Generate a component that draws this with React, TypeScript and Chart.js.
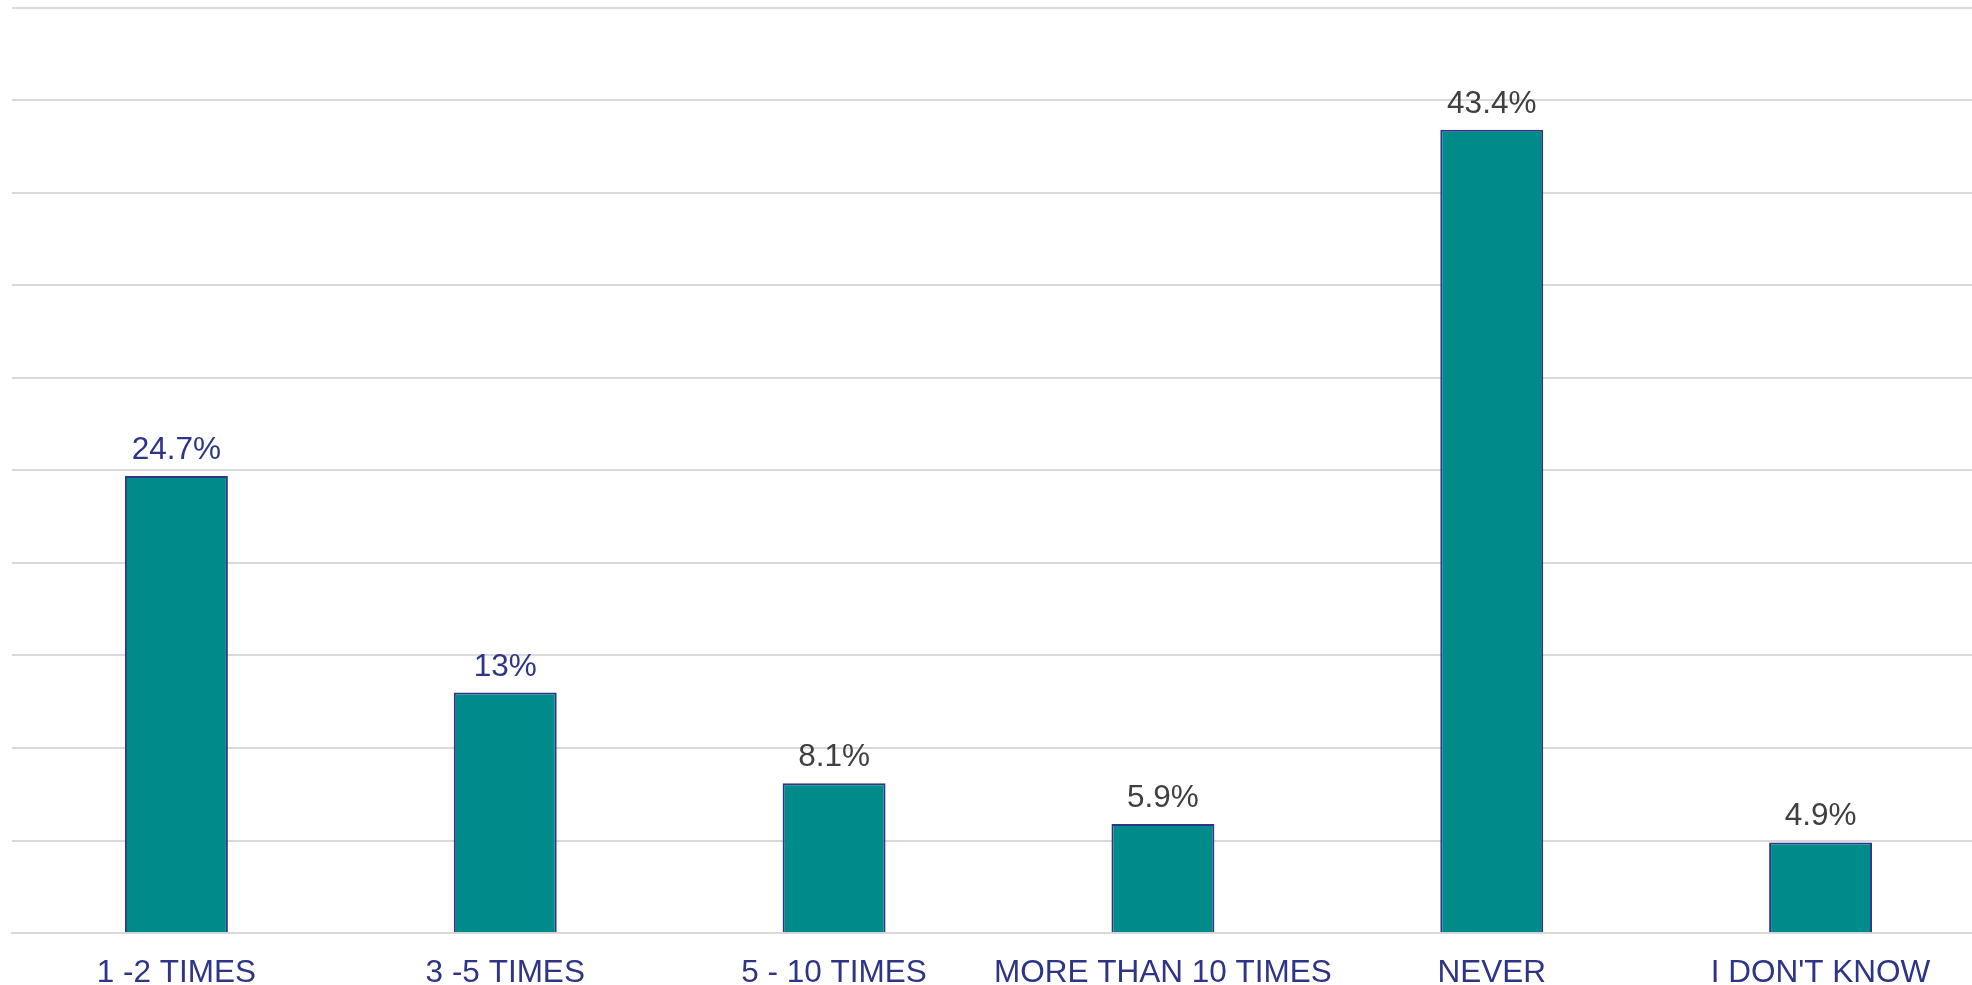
import React, { useEffect, useRef } from "react";
import { Chart, registerables } from "chart.js";

Chart.register(...registerables);

const categories = ["1 -2 TIMES", "3 -5 TIMES", "5 - 10 TIMES", "MORE THAN 10 TIMES", "NEVER", "I DON'T KNOW"];
const values = [24.7, 13, 8.1, 5.9, 43.4, 4.9];
const valueLabels = ["24.7%", "13%", "8.1%", "5.9%", "43.4%", "4.9%"];
const labelColors = ["#2E3587", "#2E3587", "#404040", "#404040", "#404040", "#404040"];
const yMax = 50;
const yStep = 5;

const FONT = "'Liberation Sans', Arial, sans-serif";

const valueLabelPlugin = {
  id: "valueLabels",
  afterDatasetsDraw(chart: any) {
    const ctx = chart.ctx;
    const meta = chart.getDatasetMeta(0);
    ctx.save();
    ctx.font = `31.5px ${FONT}`;
    ctx.textAlign = "center";
    ctx.textBaseline = "alphabetic";
    meta.data.forEach((bar: any, i: number) => {
      ctx.fillStyle = labelColors[i];
      ctx.fillText(valueLabels[i], bar.x, bar.y - 17);
    });
    ctx.restore();
  },
};

export default function App() {
  const ref = useRef<HTMLCanvasElement>(null);
  useEffect(() => {
    const canvas = ref.current!;
    const chart = new Chart(canvas, {
      type: "bar",
      data: {
        labels: categories,
        datasets: [
          {
            data: values,
            backgroundColor: "#008B8B",
            borderColor: "#2E3587",
            borderWidth: 2,
            barPercentage: 0.313,
            categoryPercentage: 1,
          },
        ],
      },
      options: {
        responsive: false,
        animation: false,
        devicePixelRatio: 1,
        layout: { padding: { left: 12, top: 7.5, right: 0, bottom: 0 } },
        plugins: { legend: { display: false }, tooltip: { enabled: false } },
        scales: {
          x: {
            grid: { display: false, drawTicks: false },
            border: { display: true, color: "#D9D9D9", width: 2 },
            ticks: {
              color: "#2E3587",
              font: { family: FONT, size: 31.5 },
              padding: 21,
              maxRotation: 0,
              autoSkip: false,
            },
          },
          y: {
            min: 0,
            max: yMax,
            ticks: { display: false, stepSize: yStep },
            grid: { color: "#D9D9D9", lineWidth: 2, drawTicks: false },
            border: { display: false },
          },
        },
      },
      plugins: [valueLabelPlugin],
    });
    return () => chart.destroy();
  }, []);
  return (
    <div style={{ position: "fixed", left: 0, top: 0, width: 1972, height: 985, overflow: "hidden", background: "#fff" }}>
      <canvas ref={ref} width={1985} height={1013} style={{ display: "block", width: 1985, height: 1013 }} />
    </div>
  );
}
